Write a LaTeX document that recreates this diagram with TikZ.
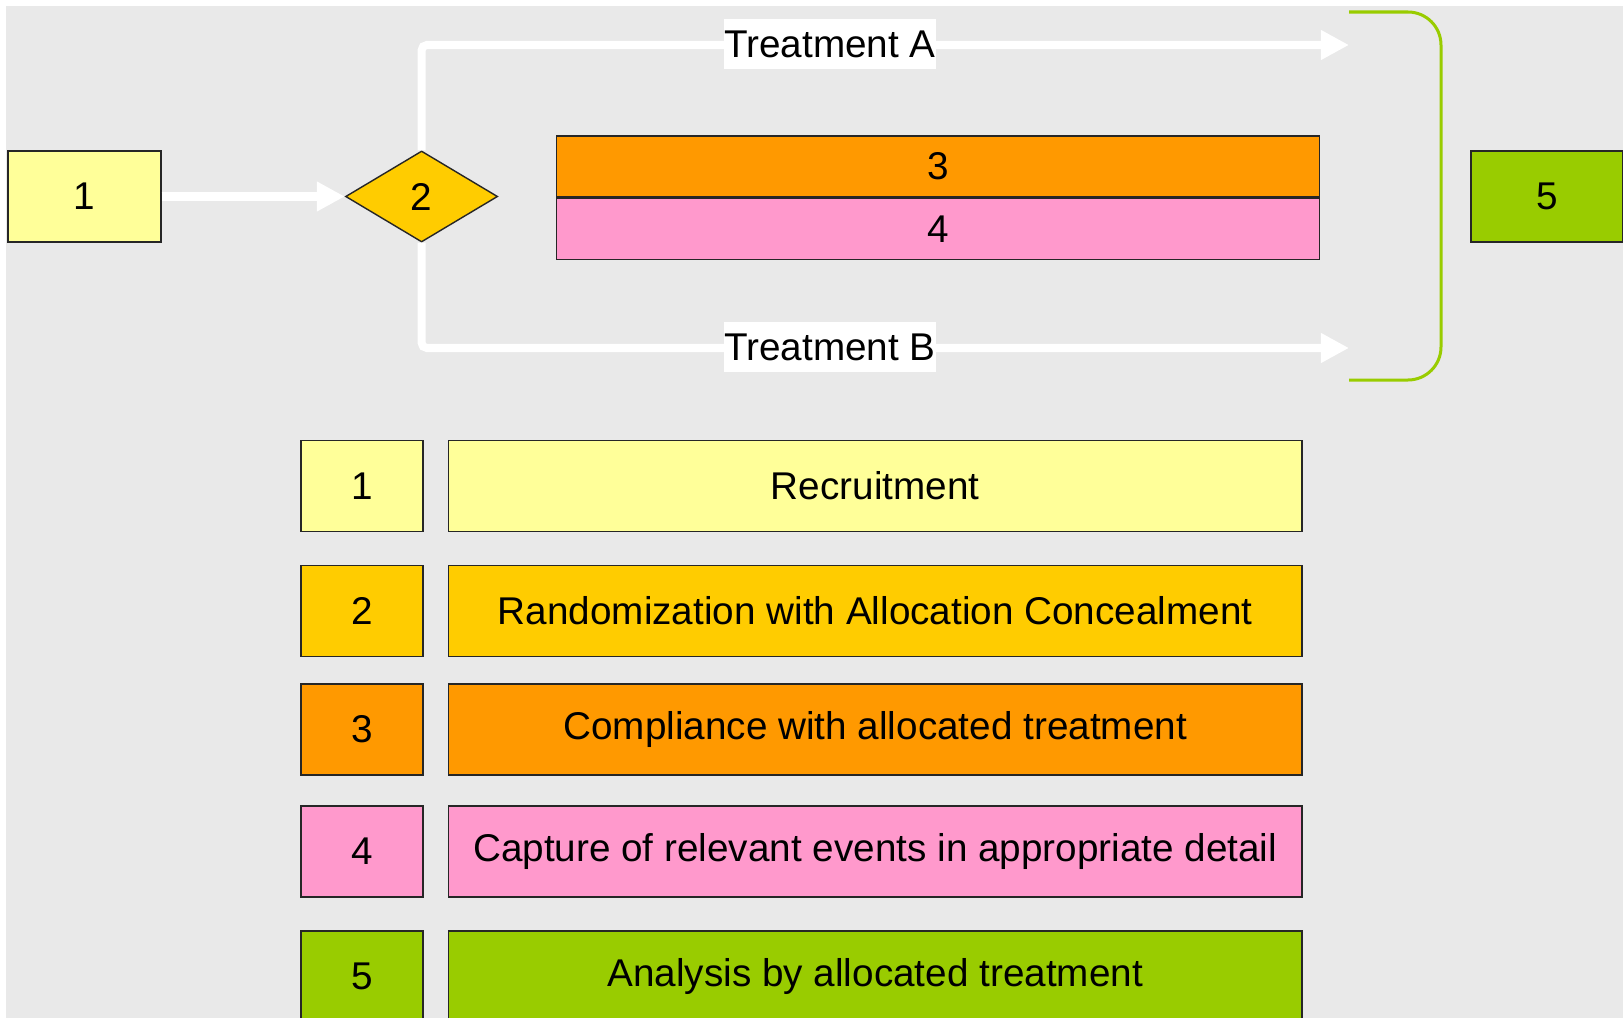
\documentclass[tikz,border=0pt]{standalone}
\usepackage{fontspec}
\setmainfont{Liberation Sans}
\usepackage{tikz}
\usetikzlibrary{positioning, shapes.geometric, arrows.meta}
\definecolor{bggray}{RGB}{233,233,233}
\definecolor{recyellow}{RGB}{255,255,153}
\definecolor{randgold}{RGB}{255,204,0}
\definecolor{complorange}{RGB}{255,153,0}
\definecolor{eventpink}{RGB}{255,153,204}
\definecolor{analgreen}{RGB}{153,204,0}
\tikzset{
	box/.style={draw=black!85, line width=0.4pt, inner sep=0pt, font=\fontsize{11pt}{13pt}\selectfont},
	numbox/.style={box, minimum width=1.22cm, minimum height=0.91cm},
	keybox/.style={box, minimum width=8.53cm, minimum height=0.91cm},
	flow/.style={draw=white, line width=0.08cm, rounded corners=1.5pt, -{Triangle[length=0.28cm, width=0.28cm]}},
	lbl/.style={fill=white, inner xsep=0pt, minimum height=0.47cm, font=\fontsize{11pt}{13pt}\selectfont},
	brace/.style={draw=analgreen, line width=0.03cm, rounded corners=0.33cm}
}
\begin{document}
\begin{tikzpicture}[x=0.01cm, y=-0.01cm]
			\clip (0,0) rectangle (1623,1018);
			\fill[bggray] (6,6) rectangle (1623,1018);
			% trial flow
			\node[box, fill=recyellow, minimum width=1.53cm, minimum height=0.91cm] (s1) at (84.5,196.5) {1};
			\node[box, diamond, fill=randgold, minimum width=1.52cm, minimum height=0.91cm, right=1.83cm of s1] (s2) {2};
			\node[box, fill=complorange, minimum width=7.62cm, minimum height=0.61cm] (s3) at (938,166.5) {3};
			\node[box, fill=eventpink, minimum width=7.62cm, minimum height=0.61cm, below=0pt of s3] (s4) {4};
			\node[box, fill=analgreen, minimum width=1.52cm, minimum height=0.91cm] (s5) at (1547,196.5) {5};
			\coordinate (ta) at (1349,45);
			\coordinate (tb) at (1349,348);
			\coordinate (bt) at (1349,12);
			\coordinate (bb) at (1349,380);
			\draw[flow] (s1) -- (s2);
			\draw[flow] (s2.north) |- (ta);
			\draw[flow] (s2.south) |- (tb);
			\node[lbl] (la) at (830,44) {Treatment A};
			\node[lbl] (lb) at (830,347) {Treatment B};
			\draw[brace] (bt) -| (1441,196) |- (bb);
			% key
			\node[numbox, fill=recyellow] (k1) at (362,486) {1};
			\node[keybox, fill=recyellow, right=0.24cm of k1] (d1) {Recruitment};
			\node[numbox, fill=randgold] (k2) at (362,611) {2};
			\node[keybox, fill=randgold, right=0.24cm of k2] (d2) {Randomization with Allocation Concealment};
			\node[numbox, fill=complorange] (k3) at (362,729.5) {3};
			\node[keybox, fill=complorange, right=0.24cm of k3] (d3) {Compliance with allocated treatment};
			\node[numbox, fill=eventpink] (k4) at (362,851.5) {4};
			\node[keybox, fill=eventpink, right=0.24cm of k4] (d4) {Capture of relevant events in appropriate detail};
			\node[numbox, fill=analgreen] (k5) at (362,976.5) {5};
			\node[keybox, fill=analgreen, right=0.24cm of k5] (d5) {Analysis by allocated treatment};
		\end{tikzpicture}
\end{document}
